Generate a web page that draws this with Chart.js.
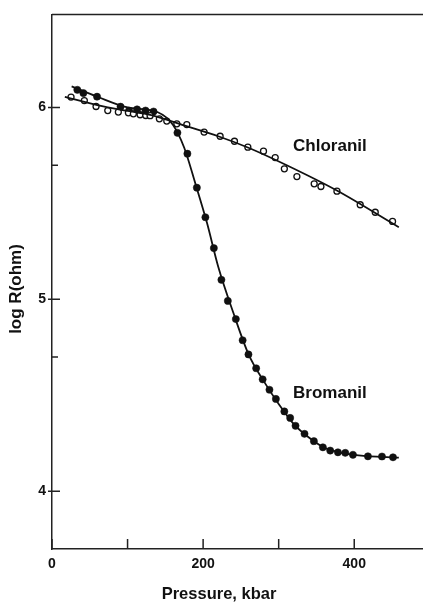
<!DOCTYPE html>
<html>
<head>
<meta charset="utf-8">
<script src="https://cdn.jsdelivr.net/npm/chart.js@4.4.1/dist/chart.umd.min.js"></script>
<style>
html, body { margin: 0; padding: 0; background: #fff; }
</style>
</head>
<body>
<canvas id="resistChart" width="423" height="604"></canvas>
<script>
// Bromanil (filled circles)
const bromP = [33.5, 41.5, 59.6, 90.7, 102, 112.6, 123.8, 134.4, 166, 179.2, 191.7, 203, 214.2, 224.2, 232.7, 243.3, 252.3, 260, 270.2, 278.8, 287.8, 296.3, 307.5, 315.2, 322.3, 334.2, 346.6, 358.5, 368.2, 378.4, 388.1, 398.3, 418.1, 436.7, 451.3];
const bromLogR = [6.092, 6.075, 6.056, 6.004, 5.984, 5.990, 5.984, 5.979, 5.868, 5.759, 5.582, 5.428, 5.267, 5.102, 4.992, 4.897, 4.787, 4.713, 4.641, 4.583, 4.529, 4.481, 4.416, 4.382, 4.341, 4.299, 4.261, 4.229, 4.212, 4.203, 4.200, 4.190, 4.182, 4.181, 4.177];
// Chloranil (open circles)
const chlorP = [25.2, 42.8, 58.3, 73.8, 87.8, 101.1, 107.7, 116.6, 124.1, 129.8, 142.1, 151.9, 165.2, 178.4, 201.3, 222.5, 241.5, 259.2, 279.9, 295.4, 307.5, 324.1, 347, 355.9, 377.1, 407.9, 427.8, 450.7];
const chlorLogR = [6.054, 6.036, 6.005, 5.984, 5.976, 5.972, 5.967, 5.962, 5.958, 5.957, 5.941, 5.929, 5.915, 5.911, 5.872, 5.850, 5.824, 5.793, 5.772, 5.739, 5.680, 5.640, 5.602, 5.588, 5.564, 5.493, 5.454, 5.406];
// hand-drawn fit curves
const bromFitP = [26, 60, 100, 140, 160, 175, 190, 205, 220, 240, 260, 280, 300, 320, 340, 360, 380, 400, 430, 459];
const bromFitLogR = [6.11, 6.056, 6.0, 5.975, 5.91, 5.79, 5.60, 5.40, 5.17, 4.93, 4.715, 4.575, 4.455, 4.35, 4.28, 4.228, 4.203, 4.19, 4.18, 4.175];
const chlorFitP = [17, 60, 100, 130, 180, 220, 260, 310, 377, 459];
const chlorFitLogR = [6.055, 6.012, 5.982, 5.962, 5.90, 5.85, 5.79, 5.70, 5.567, 5.376];

// axis ticks
const xTicks = [0, 100, 200, 300, 400];
const xLabeled = [0, 200, 400];
const yMajor = [4, 5, 6];
const yMinor = [4.699, 5.699];

const xTitle = 'Pressure, kbar';
const yTitle = 'log R(ohm)';
const seriesLabels = [
    { text: 'Chloranil', x: 319, y: 5.80 },
    { text: 'Bromanil', x: 319, y: 4.509 }
];

function pts(xs, ys) {
    return xs.map((v, i) => ({ x: v, y: ys[i] }));
}

const ink = '#111';
const labelFont = '"Liberation Sans", Arial, sans-serif';

const axisMarks = {
    id: 'axisMarks',
    afterDraw(chart) {
        const ctx = chart.ctx;
        const area = chart.chartArea;
        const x = chart.scales.x;
        const y = chart.scales.y;
        ctx.save();
        ctx.strokeStyle = '#222';
        ctx.lineWidth = 1.5;
        ctx.beginPath();
        ctx.moveTo(area.left, area.top);
        ctx.lineTo(chart.width, area.top);
        xTicks.forEach(v => {
            const px = x.getPixelForValue(v);
            ctx.moveTo(px, area.bottom);
            ctx.lineTo(px, area.bottom - 10);
        });
        yMajor.forEach(v => {
            const py = y.getPixelForValue(v);
            ctx.moveTo(area.left - 4, py);
            ctx.lineTo(area.left + 8, py);
        });
        yMinor.forEach(v => {
            const py = y.getPixelForValue(v);
            ctx.moveTo(area.left, py);
            ctx.lineTo(area.left + 6, py);
        });
        ctx.stroke();

        ctx.fillStyle = ink;
        ctx.textAlign = 'center';
        ctx.textBaseline = 'middle';
        ctx.font = 'bold 16.5px ' + labelFont;
        ctx.fillText(xTitle, 219, 594);
        ctx.save();
        ctx.translate(16, 289);
        ctx.rotate(-Math.PI / 2);
        ctx.font = 'bold 17px ' + labelFont;
        ctx.fillText(yTitle, 0, 0);
        ctx.restore();

        ctx.textAlign = 'left';
        ctx.font = 'bold 17px ' + labelFont;
        seriesLabels.forEach(l => {
            ctx.fillText(l.text, x.getPixelForValue(l.x), y.getPixelForValue(l.y));
        });
        ctx.restore();
    }
};

new Chart(document.getElementById('resistChart'), {
    type: 'scatter',
    data: {
        datasets: [{
            label: 'Bromanil fit',
            data: pts(bromFitP, bromFitLogR),
            showLine: true,
            borderColor: ink,
            borderWidth: 1.8,
            pointRadius: 0,
            cubicInterpolationMode: 'monotone'
        }, {
            label: 'Chloranil fit',
            data: pts(chlorFitP, chlorFitLogR),
            showLine: true,
            borderColor: ink,
            borderWidth: 1.8,
            pointRadius: 0,
            cubicInterpolationMode: 'monotone'
        }, {
            label: 'Chloranil',
            data: pts(chlorP, chlorLogR),
            pointRadius: 3,
            pointBackgroundColor: '#fff',
            pointBorderColor: ink,
            pointBorderWidth: 1.3
        }, {
            label: 'Bromanil',
            data: pts(bromP, bromLogR),
            pointRadius: 3.6,
            pointBackgroundColor: ink,
            pointBorderColor: ink,
            pointBorderWidth: 0.5
        }]
    },
    options: {
        responsive: false,
        animation: false,
        layout: { autoPadding: false, padding: { top: 14, right: 0, left: 0, bottom: 0 } },
        plugins: {
            legend: { display: false },
            tooltip: { enabled: false }
        },
        scales: {
            x: {
                type: 'linear',
                min: 0,
                max: 491,
                afterFit: s => { s.height = 55; },
                afterBuildTicks: s => { s.ticks = xTicks.map(v => ({ value: v })); },
                grid: { drawOnChartArea: false, drawTicks: true, tickLength: 7, tickColor: 'rgba(0,0,0,0)' },
                border: { display: true, color: '#222', width: 1.5 },
                ticks: {
                    padding: 0,
                    color: ink,
                    font: { family: labelFont, size: 14, weight: 'bold' },
                    callback: v => xLabeled.includes(v) ? String(v) : ''
                }
            },
            y: {
                type: 'linear',
                min: 3.699,
                max: 6.485,
                afterFit: s => { s.width = 52; },
                afterBuildTicks: s => { s.ticks = yMajor.map(v => ({ value: v })); },
                grid: { drawOnChartArea: false, drawTicks: false },
                border: { display: true, color: '#222', width: 1.5 },
                ticks: {
                    padding: 6,
                    color: ink,
                    font: { family: labelFont, size: 14, weight: 'bold' },
                    callback: v => String(v)
                }
            }
        }
    },
    plugins: [axisMarks]
});
</script>
</body>
</html>
